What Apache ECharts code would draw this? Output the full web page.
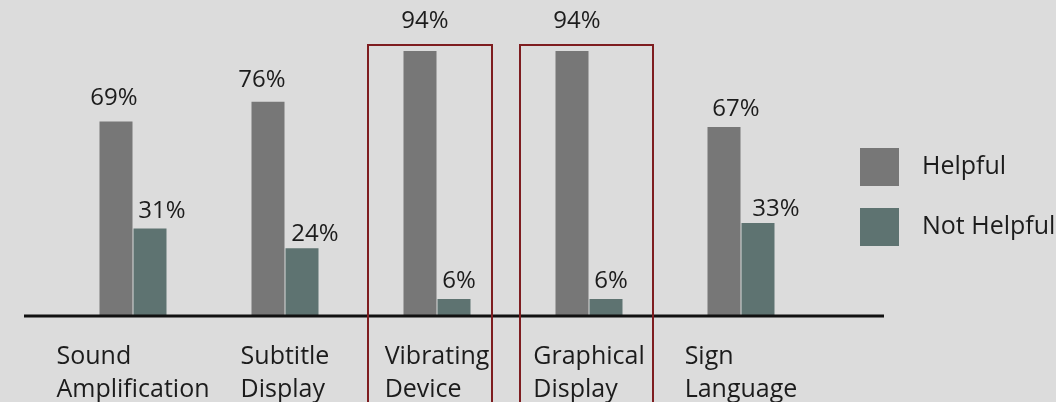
<!DOCTYPE html>
<html>
<head>
<meta charset="utf-8">
<script src="https://cdn.jsdelivr.net/npm/echarts@6/dist/echarts.min.js"></script>
<style>
  html, body { margin: 0; padding: 0; background: #dcdcdc; }
  #chart { width: 1056px; height: 402px; }
</style>
</head>
<body>
<div id="chart"></div>
<script>
// Survey results: share of respondents rating each aid
const categories = ['Sound\nAmplification', 'Subtitle\nDisplay', 'Vibrating\nDevice', 'Graphical\nDisplay', 'Sign\nLanguage'];
const helpful = [69, 76, 94, 94, 67];
const notHelpful = [31, 24, 6, 6, 33];
const seriesNames = ['Helpful', 'Not Helpful'];
// Categories outlined with a red frame
const highlighted = ['Vibrating\nDevice', 'Graphical\nDisplay'];

// Per-label nudges [dx, dy] for the percentage labels
const helpfulLabelShift = [[-2, -11], [-6, -10], [5, -18], [5, -18], [12, -6]];
const notHelpfulLabelShift = [[12, -5], [13, -2], [5, -6], [5, -6], [18, -2]];
// Frame geometry relative to the category centre: [left offset, width]
const frameBox = [[-69, 124], [-69, 133]];

const FONT = '"Open Sans", "Noto Sans", sans-serif';
const TEXT = '#1c1c1c';

const chart = echarts.init(document.getElementById('chart'), null, { renderer: 'canvas' });

function labelled(values, shifts) {
  return values.map((v, i) => ({
    value: v,
    label: { offset: shifts[i] }
  }));
}

chart.setOption({
  backgroundColor: '#dcdcdc',
  animation: false,
  grid: { left: 57, right: 239, top: 34, bottom: 86 },
  legend: {
    orient: 'vertical',
    left: 860,
    top: 148,
    padding: 0,
    itemWidth: 39,
    itemHeight: 38,
    itemGap: 22,
    icon: 'rect',
    data: seriesNames,
    textStyle: { fontFamily: FONT, fontSize: 25, color: TEXT, padding: [0, 0, 0, 18] }
  },
  xAxis: {
    type: 'category',
    data: categories,
    axisLine: { show: false },
    axisTick: { show: false },
    axisLabel: {
      interval: 0,
      hideOverlap: false,
      margin: 24,
      formatter: v => v.split('\n').map(s => '{a|' + s + '}').join('\n'),
      rich: {
        a: { align: 'left', fontFamily: FONT, fontSize: 25, lineHeight: 33, color: TEXT }
      }
    }
  },
  yAxis: {
    type: 'value',
    min: 0,
    max: 100,
    show: false,
    splitLine: { show: false }
  },
  series: [
    {
      name: seriesNames[0],
      type: 'bar',
      data: labelled(helpful, helpfulLabelShift),
      barWidth: 33,
      barGap: '3%',
      itemStyle: { color: '#777777' },
      label: {
        show: true,
        position: 'top',
        distance: 0,
        formatter: '{c}%',
        fontFamily: FONT,
        fontSize: 24,
        color: TEXT
      }
    },
    {
      name: seriesNames[1],
      type: 'bar',
      data: labelled(notHelpful, notHelpfulLabelShift),
      barWidth: 33,
      itemStyle: { color: '#5e7371' },
      label: {
        show: true,
        position: 'top',
        distance: 0,
        formatter: '{c}%',
        fontFamily: FONT,
        fontSize: 24,
        color: TEXT
      }
    }
  ]
});

// Baseline rule and red frames placed from the axis scales
function drawOverlay() {
  const baseY = chart.convertToPixel({ yAxisIndex: 0 }, 0);
  const frames = highlighted.map((cat, i) => {
    const cx = chart.convertToPixel({ xAxisIndex: 0 }, cat);
    return {
      type: 'rect',
      shape: { x: cx + frameBox[i][0], y: 45, width: frameBox[i][1], height: 380 },
      style: { fill: 'none', stroke: '#7e1d20', lineWidth: 2 },
      z: 10
    };
  });
  chart.setOption({
    graphic: [
      {
        type: 'line',
        shape: { x1: 24, y1: baseY, x2: 884, y2: baseY },
        style: { stroke: '#111111', lineWidth: 3 },
        z: 9
      }
    ].concat(frames)
  });
}
drawOverlay();
</script>
</body>
</html>
